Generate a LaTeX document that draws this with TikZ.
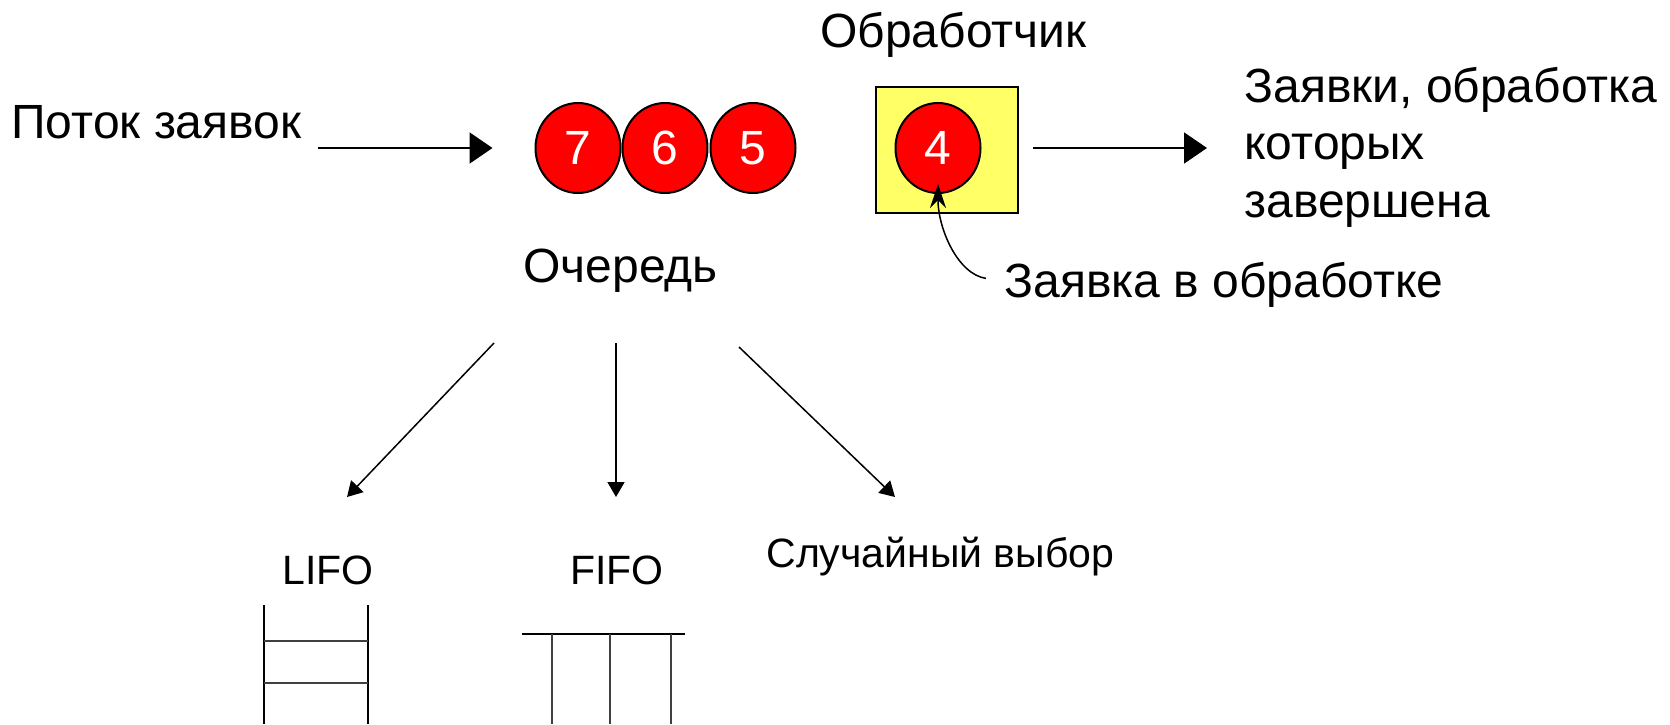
\documentclass[tikz,border=0pt]{standalone}
\usepackage{fontspec}
\setmainfont{Liberation Sans}
\usetikzlibrary{arrows.meta,shapes.geometric}
\definecolor{ballred}{HTML}{FF0000}
\definecolor{boxyellow}{HTML}{FFFF66}
\definecolor{stackgray}{HTML}{404040}
\begin{document}
\begin{tikzpicture}[x=0.5pt,y=-0.5pt,
  bigtext/.style={inner sep=0pt,font=\fontsize{24}{28.75}\selectfont},
  smalltext/.style={inner sep=0pt,font=\fontsize{20.5}{24}\selectfont},
  ball/.style={ellipse,draw=black,line width=1pt,fill=ballred,text=white,
    minimum width=42.5pt,minimum height=45pt,inner sep=0pt,
    font=\fontsize{24}{28}\selectfont},
  procbox/.style={rectangle,draw=black,line width=1pt,fill=boxyellow,
    minimum width=71pt,minimum height=63pt,inner sep=0pt},
  bigarrow/.style={line width=1pt,-{Triangle[length=11.5pt,width=15.5pt]}},
  smallarrow/.style={line width=0.75pt,-{Triangle[length=7.5pt,width=8.5pt]}},
  curvearrow/.style={line width=0.75pt,-{Stealth[length=12pt,width=8pt]}},
  stackline/.style={line width=0.75pt,draw=stackgray}]
\path[use as bounding box] (0,0) rectangle (1670,724);

% texts
\node[bigtext,anchor=base west] (flow) at (11,138) {Поток заявок};
\node[bigtext,anchor=base west] (queue) at (523,282) {Очередь};
\node[bigtext,anchor=base west] (proclbl) at (820,47) {Обработчик};
\node[bigtext,anchor=base west,align=left] (done) at (1244,217)
  {Заявки, обработка\\которых\\завершена};
\node[bigtext,anchor=base west] (inproc) at (1004,297) {Заявка в обработке};
\node[smalltext,anchor=base west] (lifo) at (282,584) {LIFO};
\node[smalltext,anchor=base west] (fifo) at (570,584) {FIFO};
\node[smalltext,anchor=base west] (rand) at (766,567) {Случайный выбор};

% queue balls
\node[ball] (c7) at (578,148) {7};
\node[ball] (c6) at (665,148) {6};
\node[ball] (c5) at (753,148) {5};

% processor
\node[procbox] (box) at (947,150) {};
\node[ball] (c4) at (938,148) {4};

% main arrows
\draw[bigarrow] ([xshift=8pt]flow.east |- c7.center) -- ([xshift=-21pt]c7.west);
\draw[bigarrow] ([xshift=7pt]box.east |- c4.center) -- ([xshift=-18.5pt]done.west |- c4.center);

% curved pointer
\draw[curvearrow] ([xshift=-9pt,yshift=3pt]inproc.west) .. controls +(-28,-4) and +(0,45) .. ([yshift=5pt]c4.south);

% branch arrows
\coordinate (sL) at (494,343);
\coordinate (sF) at (616,343);
\coordinate (sR) at (739,347);
\coordinate (tL) at (347,497);
\coordinate (tF) at (616,497);
\coordinate (tR) at (895,497);
\draw[smallarrow] (sL) -- (tL);
\draw[smallarrow] (sF) -- (tF);
\draw[smallarrow] (sR) -- (tR);

% LIFO stack
\draw[line width=0.75pt] (264,605) -- (264,724);
\draw[line width=0.75pt] (368,605) -- (368,724);
\draw[stackline] (264,641) -- (368,641);
\draw[stackline] (264,683) -- (368,683);

% FIFO pipe
\draw[line width=0.75pt] (522,634) -- (685,634);
\draw[stackline] (552,634) -- (552,724);
\draw[stackline] (610,634) -- (610,724);
\draw[stackline] (671,634) -- (671,724);
\end{tikzpicture}
\end{document}
